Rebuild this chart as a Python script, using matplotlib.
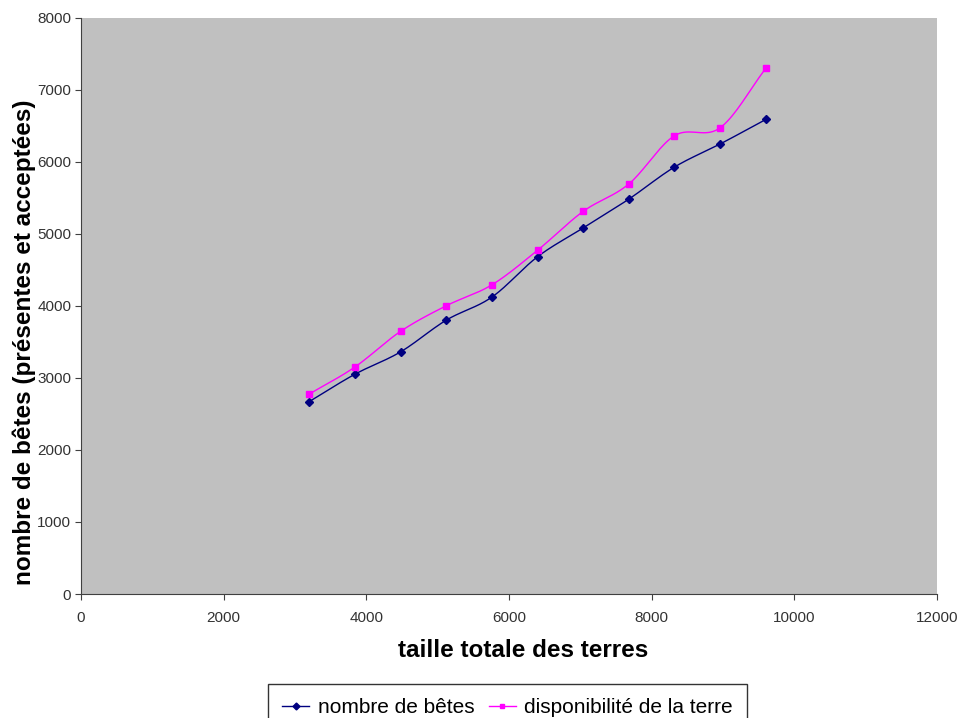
import numpy as np
import matplotlib.pyplot as plt
from matplotlib.lines import Line2D

# data
taille = [3200, 3840, 4480, 5120, 5760, 6400, 7040, 7680, 8320, 8960, 9600]
betes = [2670, 3050, 3360, 3800, 4120, 4680, 5080, 5480, 5925, 6245, 6585]
terre = [2775, 3150, 3645, 4000, 4290, 4770, 5310, 5690, 6360, 6470, 7295]


def smooth(x, y, n=20):
    # catmull-rom, like the excel "smoothed line" option
    x = np.asarray(x, float)
    y = np.asarray(y, float)
    px = np.concatenate([[2 * x[0] - x[1]], x, [2 * x[-1] - x[-2]]])
    py = np.concatenate([[2 * y[0] - y[1]], y, [2 * y[-1] - y[-2]]])
    xs, ys = [], []
    t = np.linspace(0, 1, n)
    for i in range(1, len(px) - 2):
        for p, out in ((px, xs), (py, ys)):
            p0, p1, p2, p3 = p[i - 1], p[i], p[i + 1], p[i + 2]
            out.extend(0.5 * (2 * p1 + (-p0 + p2) * t
                              + (2 * p0 - 5 * p1 + 4 * p2 - p3) * t ** 2
                              + (-p0 + 3 * p1 - 3 * p2 + p3) * t ** 3))
    return xs, ys


plt.rcParams['font.family'] = ['Liberation Sans', 'DejaVu Sans']

fig = plt.figure(figsize=(9.63, 7.18), dpi=100)
ax = fig.add_axes([0.0841, 0.1727, 0.8889, 0.8029])
ax.set_facecolor('#c0c0c0')

navy = '#000080'
pink = '#ff00ff'

sx, sy = smooth(taille, betes)
ax.plot(sx, sy, color=navy, lw=1)
ax.plot(taille, betes, ls='none', marker='D', ms=4.5, color=navy)
sx, sy = smooth(taille, terre)
ax.plot(sx, sy, color=pink, lw=1)
ax.plot(taille, terre, ls='none', marker='s', ms=5, color=pink)

ax.set_xlim(0, 12000)
ax.set_ylim(0, 8000)
ax.set_xticks(range(0, 12001, 2000))
ax.set_yticks(range(0, 8001, 1000))
ax.tick_params(labelsize=11, length=4, direction='out', color='#404040', labelcolor='#333333')
ax.tick_params(axis='x', pad=8)
ax.tick_params(axis='y', pad=3)
for s in ['top', 'right']:
    ax.spines[s].set_visible(False)
for s in ['left', 'bottom']:
    ax.spines[s].set_color('#404040')

ax.set_xlabel('taille totale des terres', fontsize=17.5, fontweight='bold')
ax.set_ylabel('nombre de bêtes (présentes et acceptées)', fontsize=17.5, fontweight='bold')
ax.xaxis.set_label_coords(0.516, -0.078)
ax.yaxis.set_label_coords(-0.052, 0.4375)

handles = [Line2D([], [], color=navy, marker='D', ms=3.5, lw=1),
           Line2D([], [], color=pink, marker='s', ms=3.5, lw=1)]
leg = fig.legend(handles, ['nombre de bêtes', 'disponibilité de la terre'],
                 loc='upper center', bbox_to_anchor=(0.527, 0.062), ncol=2,
                 fontsize=15, frameon=True, fancybox=False, handlelength=1.3,
                 handletextpad=0.4, columnspacing=0.7, borderpad=0.7)
leg.get_frame().set_edgecolor('black')
leg.get_frame().set_linewidth(1)

fig.savefig('out.png', dpi=100)
